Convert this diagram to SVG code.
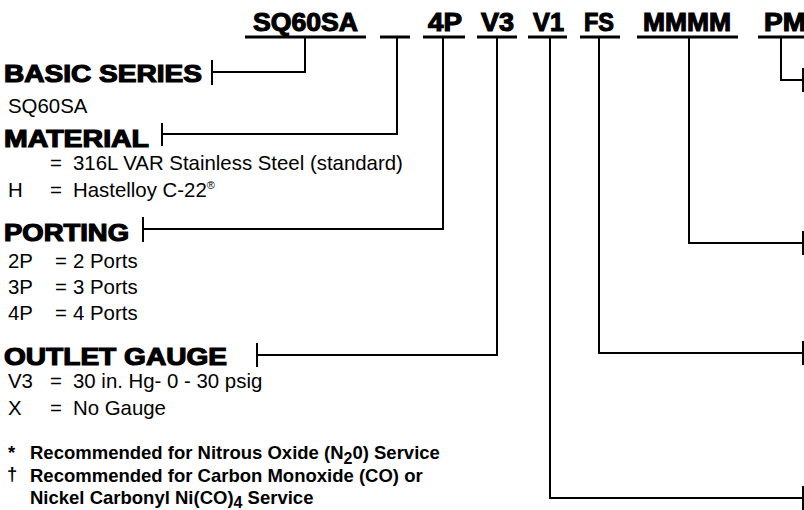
<svg xmlns="http://www.w3.org/2000/svg" width="804" height="510" viewBox="0 0 804 510">
<style>
.code{font-family:"Liberation Sans",Arial,sans-serif;font-weight:bold;font-size:25px;fill:#000;stroke:#000;stroke-width:1.1px}
.head{font-family:"Liberation Sans",Arial,sans-serif;font-weight:bold;font-size:24.5px;fill:#000;stroke:#000;stroke-width:1.2px}
.txt{font-family:"Liberation Sans",Arial,sans-serif;font-size:20.4px;fill:#000}
.note{font-family:"Liberation Sans",Arial,sans-serif;font-weight:bold;font-size:18.5px;fill:#000}
.ul{stroke:#000;stroke-width:3;fill:none}
.ln{stroke:#000;stroke-width:2;fill:none}
</style>
<rect width="804" height="510" fill="#fff"/>
<g id="code">
<text class="code" x="253" y="31" textLength="105" lengthAdjust="spacingAndGlyphs">SQ60SA</text>
<text class="code" x="428" y="31" textLength="34" lengthAdjust="spacingAndGlyphs">4P</text>
<text class="code" x="481" y="31" textLength="33" lengthAdjust="spacingAndGlyphs">V3</text>
<text class="code" x="533" y="31" textLength="31" lengthAdjust="spacingAndGlyphs">V1</text>
<text class="code" x="584" y="31" textLength="30" lengthAdjust="spacingAndGlyphs">FS</text>
<text class="code" x="643" y="31" textLength="88" lengthAdjust="spacingAndGlyphs">MMMM</text>
<text class="code" x="764" y="31" textLength="42" lengthAdjust="spacingAndGlyphs">PM</text>
<line class="ul" x1="245" y1="37" x2="366" y2="37"/>
<line class="ul" x1="380" y1="37" x2="410" y2="37"/>
<line class="ul" x1="423" y1="37" x2="465" y2="37"/>
<line class="ul" x1="477" y1="37" x2="517" y2="37"/>
<line class="ul" x1="528" y1="37" x2="567" y2="37"/>
<line class="ul" x1="580" y1="37" x2="620" y2="37"/>
<line class="ul" x1="637" y1="37" x2="738" y2="37"/>
<line class="ul" x1="758" y1="37" x2="804" y2="37"/>
</g>
<g id="basic-series">
<text class="head" x="4" y="82" textLength="198" lengthAdjust="spacingAndGlyphs">BASIC SERIES</text>
<text class="txt" x="8" y="113">SQ60SA</text>
</g>
<g id="material">
<text class="head" x="4" y="147" textLength="145" lengthAdjust="spacingAndGlyphs">MATERIAL</text>
<text class="txt" x="50" y="170">=</text>
<text class="txt" x="73" y="170">316L VAR Stainless Steel (standard)</text>
<text class="txt" x="8" y="197">H</text>
<text class="txt" x="50" y="197">=</text>
<text class="txt" x="73" y="197">Hastelloy C-22<tspan font-size="11" dy="-8">®</tspan></text>
</g>
<g id="porting">
<text class="head" x="4" y="241" textLength="125" lengthAdjust="spacingAndGlyphs">PORTING</text>
<text class="txt" x="8" y="268">2P</text><text class="txt" x="55" y="268">=</text><text class="txt" x="73" y="268">2 Ports</text>
<text class="txt" x="8" y="294">3P</text><text class="txt" x="55" y="294">=</text><text class="txt" x="73" y="294">3 Ports</text>
<text class="txt" x="8" y="320">4P</text><text class="txt" x="55" y="320">=</text><text class="txt" x="73" y="320">4 Ports</text>
</g>
<g id="outlet-gauge">
<text class="head" x="4" y="365" textLength="223" lengthAdjust="spacingAndGlyphs">OUTLET GAUGE</text>
<text class="txt" x="8" y="388">V3</text><text class="txt" x="50" y="388">=</text><text class="txt" x="73" y="388">30 in. Hg- 0 - 30 psig</text>
<text class="txt" x="8" y="415">X</text><text class="txt" x="50" y="415">=</text><text class="txt" x="73" y="415">No Gauge</text>
</g>
<g id="notes">
<text class="note" x="8" y="459">*</text>
<text class="note" x="30" y="459">Recommended for Nitrous Oxide (N<tspan font-size="16" dy="5">2</tspan><tspan dy="-5">0) Service</tspan></text>
<text class="note" x="7" y="480" font-size="21">†</text>
<text class="note" x="30" y="482">Recommended for Carbon Monoxide (CO) or</text>
<text class="note" x="30" y="504">Nickel Carbonyl Ni(CO)<tspan font-size="16" dy="4">4</tspan><tspan dy="-4"> Service</tspan></text>
</g>
<g id="connectors">
<polyline class="ln" points="305,37 305,72 212,72"/>
<line class="ln" x1="212" y1="60" x2="212" y2="85"/>
<polyline class="ln" points="397,37 397,134 162,134"/>
<line class="ln" x1="162" y1="123" x2="162" y2="146"/>
<polyline class="ln" points="443,37 443,229 143,229"/>
<line class="ln" x1="143" y1="217" x2="143" y2="242"/>
<polyline class="ln" points="497,37 497,355 257,355"/>
<line class="ln" x1="257" y1="343" x2="257" y2="367"/>
<polyline class="ln" points="550,37 550,498 803,498"/>
<line class="ln" x1="803" y1="486" x2="803" y2="510"/>
<polyline class="ln" points="599,37 599,353 803,353"/>
<line class="ln" x1="803" y1="341" x2="803" y2="365"/>
<polyline class="ln" points="689,37 689,243 803,243"/>
<line class="ln" x1="803" y1="231" x2="803" y2="255"/>
<polyline class="ln" points="781,37 781,80 803,80"/>
<line class="ln" x1="803" y1="68" x2="803" y2="92"/>
</g>
</svg>
